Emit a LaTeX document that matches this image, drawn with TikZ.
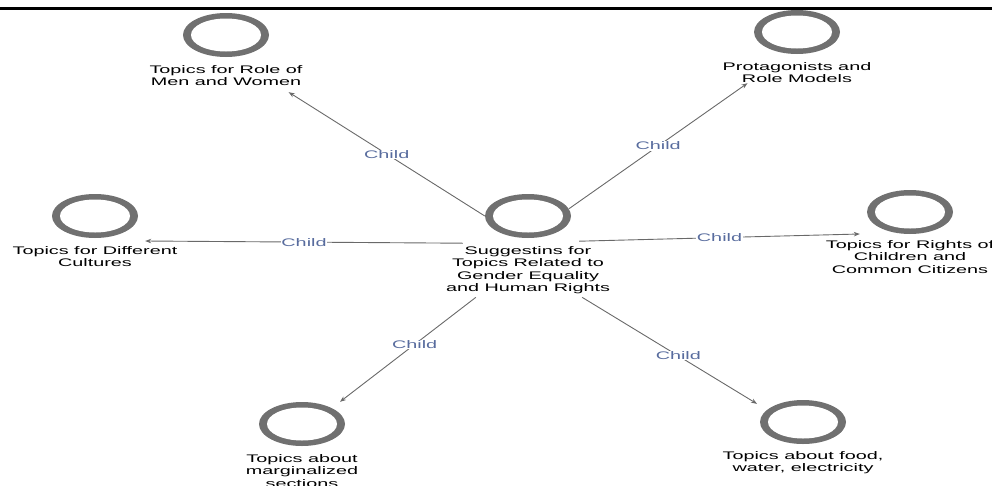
\documentclass[tikz,border=0pt]{standalone}
\usepackage{fontspec}
\newfontfamily\lblfont[FakeStretch=1.8]{Liberation Sans}
\newfontfamily\ttlfont[FakeStretch=1.8]{Liberation Serif}
\usetikzlibrary{shapes,arrows.meta,positioning}
\definecolor{ringgray}{RGB}{112,112,112}
\definecolor{edgegray}{RGB}{105,105,105}
\definecolor{childblue}{RGB}{88,108,158}
\tikzstyle{ring} = [ellipse, fill=ringgray, minimum width=86pt, minimum height=44pt, inner sep=0pt,
  path picture={\fill[white] (path picture bounding box.center) ellipse [x radius=35pt, y radius=16.5pt];}]
\tikzstyle{topic} = [align=center, inner sep=0pt, font=\lblfont\fontsize{11}{12.5}\selectfont]
\tikzstyle{line} = [draw, edgegray, line width=0.9pt, -{Stealth[length=6pt,width=4.5pt]}]
\tikzstyle{child} = [fill=white, inner sep=0.5pt, text=childblue, font=\lblfont\fontsize{11}{12.5}\selectfont]

\begin{document}
\begin{tikzpicture}[x=1pt,y=-1pt]
	\useasboundingbox (0,0) rectangle (992,485);

	% caption cut off at the top of the page
	\begin{scope}
		\clip (0,0) rectangle (992,485);
		\node[anchor=base, inner sep=0pt, font=\ttlfont\bfseries\fontsize{19}{21}\selectfont] (title) at (499,-4.5) {Suggestions for Topics Related to Gender Equality};
	\end{scope}
	\draw[line width=3pt] (0,8.5) -- (992,8.5);

	\node[ring] (ctr) at (528,216) {};
	\node[topic, below=8pt of ctr] (ctrl) {Suggestins for\\Topics Related to\\Gender Equality\\and Human Rights};

	\node[ring] (role) at (226,35) {};
	\node[topic, below=8pt of role] (rolel) {Topics for Role of\\Men and Women};
	\node[ring] (prot) at (797,32) {};
	\node[topic, below=8pt of prot] (protl) {Protagonists and\\Role Models};

	\node[ring] (cult) at (95,216) {};
	\node[topic, below=8pt of cult] (cultl) {Topics for Different\\Cultures};
	\node[ring] (rights) at (910,212) {};
	\node[topic, below=6pt of rights] (rightsl) {Topics for Rights of\\Children and\\Common Citizens};

	\node[ring] (marg) at (302,424) {};
	\node[topic, below=8pt of marg] (margl) {Topics about\\marginalized\\sections};
	\node[ring] (food) at (803,422) {};
	\node[topic, below=7pt of food] (foodl) {Topics about food,\\water, electricity};

	\path [line] (ctr.west) -- node[child] {Child} ([shift={(-14,6)}]rolel.south east);
	\path [line] (ctr.10) -- node[child] {Child} ([xshift=25pt]protl.south west);
	\path [line] ([shift={(17,-3)}]ctrl.north west) -- node[child] {Child} ([shift={(7,25)}]cult.east);
	\path [line] ([shift={(-31,-5)}]ctrl.north east) -- node[child] {Child} ([shift={(-7,22)}]rights.west);
	\path [line] ([shift={(30,3)}]ctrl.south west) -- node[child, pos=0.45] {Child} ([xshift=38pt]marg.north);
	\path [line] ([shift={(-28,3)}]ctrl.south east) -- node[child, pos=0.55] {Child} ([shift={(-46,4)}]food.north);
\end{tikzpicture}
\end{document}
